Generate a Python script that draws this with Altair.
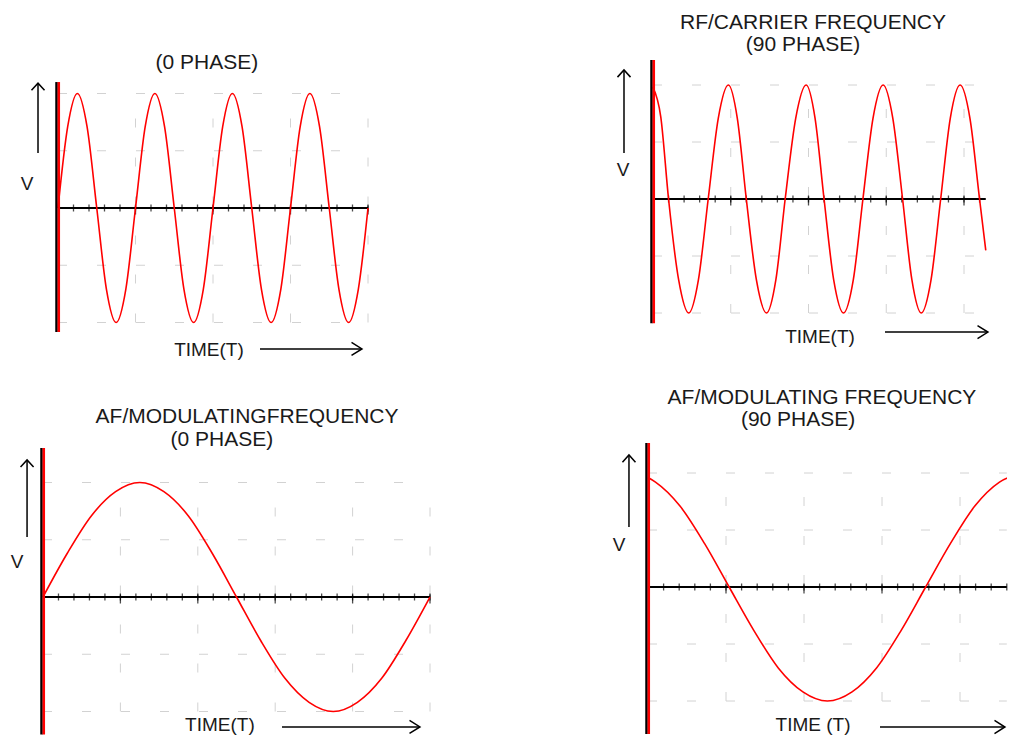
import altair as alt
import pandas as pd

# ---------------- data ----------------
# Panel 1: RF / carrier, 0 phase  (t in axis-tick units, v in peak units)
rf0_t = [0.0, 0.625, 1.25, 1.875, 2.5, 3.125, 3.75, 4.375, 5.0, 5.625, 6.25, 6.875,
         7.5, 8.125, 8.75, 9.375, 10.0, 10.625, 11.25, 11.875, 12.5, 13.125, 13.75,
         14.375, 15.0, 15.625, 16.25, 16.875, 17.5, 18.125, 18.75, 19.375, 20.0]
rf0_v = [0, 0.71, 1, 0.71, 0, -0.71, -1, -0.71, 0, 0.71, 1, 0.71, 0, -0.71, -1, -0.71,
         0, 0.71, 1, 0.71, 0, -0.71, -1, -0.71, 0, 0.71, 1, 0.71, 0, -0.71, -1, -0.71, 0]

# Panel 2: RF / carrier, 90 phase
rf90_t = [0.0, 0.5, 1.0, 1.65, 2.3, 2.92, 3.55, 4.2, 4.85, 5.42, 6.0, 6.65, 7.3, 7.9,
          8.5, 9.18, 9.85, 10.42, 11.0, 11.62, 12.25, 12.88, 13.5, 14.15, 14.8, 15.42,
          16.05, 16.65, 17.25, 17.88, 18.5, 19.12, 19.75, 20.38, 21.0, 21.4]
rf90_v = [0.98, 0.72, 0, -0.71, -1, -0.71, 0, 0.71, 1, 0.71, 0, -0.71, -1, -0.71,
          0, 0.71, 1, 0.71, 0, -0.71, -1, -0.71, 0, 0.71, 1, 0.71,
          0, -0.71, -1, -0.71, 0, 0.71, 1, 0.71, 0, -0.45]

# Panel 3: AF / modulating, 0 phase
af0_t = [0, 1.56, 3.13, 4.69, 6.25, 7.81, 9.38, 10.94, 12.5, 14.06, 15.63, 17.19,
         18.75, 20.31, 21.88, 23.44, 25]
af0_v = [0, 0.38, 0.71, 0.92, 1, 0.92, 0.71, 0.38, 0, -0.38, -0.71, -0.92,
         -1, -0.92, -0.71, -0.38, 0]

# Panel 4: AF / modulating, 90 phase
af90_t = [0.0, 0.48, 2.05, 3.63, 5.2, 6.78, 8.35, 9.93, 11.5, 13.08, 14.65, 16.23,
          17.8, 19.38, 20.95, 22.53, 24.1]
af90_v = [0.96, 0.92, 0.71, 0.38, 0, -0.38, -0.71, -0.92, -1, -0.92, -0.71, -0.38,
          0, 0.38, 0.71, 0.92, 1.0]

grid_levels = [-1, -0.5, 0.5, 1]

titles = {
    "p1": [("(0 PHASE)", 9.61, 1.266)],
    "p2": [("RF/CARRIER FREQUENCY", 10.29, 1.544), ("(90 PHASE)", 9.65, 1.351)],
    "p3": [("AF/MODULATINGFREQUENCY", 13.18, 1.572), ("(0 PHASE)", 11.56, 1.371)],
    "p4": [("AF/MODULATING FREQUENCY", 11.15, 1.658), ("(90 PHASE)", 9.62, 1.465)],
}
v_labels = {"p1": (-2.0, 0.21), "p2": (-1.93, 0.254), "p3": (-1.68, 0.306), "p4": (-1.86, 0.368)}
time_labels = {"p1": ("TIME(T)", 9.74, -1.24), "p2": ("TIME(T)", 10.74, -1.211),
               "p3": ("TIME(T)", 11.43, -1.118), "p4": ("TIME (T)", 10.58, -1.21)}
# up arrow: t, v_from, v_to ; right arrow: v, t_from, t_to
up_arrows = {"p1": (-1.29, 0.48, 1.09), "p2": (-1.865, 0.404, 1.132),
             "p3": (-1.03, 0.524, 1.197), "p4": (-1.22, 0.526, 1.158)}
right_arrows = {"p1": (-1.231, 13.03, 19.61), "p2": (-1.167, 14.92, 21.54),
                "p3": (-1.135, 15.44, 24.35), "p4": (-1.228, 14.87, 22.88)}

# ---------------- style / layout ----------------
FONT = "Liberation Sans"
FS_TITLE = 21
FS = 19
TXT = "#1a1a1a"
RED = "#ff0000"
GRID = "#d2d2d2"


def panel(key, ct, cv, axis_end, n_ticks, grid_t, red_top, red_bottom, lay):
    W, H, ox, oy, sx, sy = lay
    xdom = [-ox / sx, (W - ox) / sx]
    ydom = [-(H - oy) / sy, oy / sy]

    def X(f):
        return alt.X(f, type="quantitative", axis=None,
                     scale=alt.Scale(domain=xdom, nice=False, zero=False))

    def Y(f):
        return alt.Y(f, type="quantitative", axis=None,
                     scale=alt.Scale(domain=ydom, nice=False, zero=False))

    gv = pd.DataFrame({"t": grid_t, "v0": [-1] * len(grid_t), "v1": [1] * len(grid_t)})
    gh = pd.DataFrame({"v": grid_levels, "t0": [0] * 4, "t1": [axis_end] * 4})
    ax = pd.DataFrame({"t0": [0], "t1": [axis_end], "v": [0]})
    tk = pd.DataFrame({"t": list(range(1, n_ticks + 1)), "v": [0] * n_ticks})
    tkm = tk[tk["t"] % 5 == 0]
    cur = pd.DataFrame({"t": ct, "v": cv})
    va = pd.DataFrame({"t": [0], "v0": [red_bottom], "v1": [red_top]})
    ua = up_arrows[key]
    ra = right_arrows[key]
    shafts = pd.DataFrame({"t0": [ua[0], ra[1]], "t1": [ua[0], ra[2]],
                           "v0": [ua[1], ra[0]], "v1": [ua[2], ra[0]]})
    uh = pd.DataFrame({"t": [ua[0]], "v": [ua[2]]})
    rh = pd.DataFrame({"t": [ra[2]], "v": [ra[0]]})
    tt = pd.DataFrame(list(titles[key]), columns=["label", "t", "v"])
    tx = pd.DataFrame([("V",) + v_labels[key], time_labels[key]], columns=["label", "t", "v"])

    layers = [
        alt.Chart(gv).mark_rule(color=GRID, strokeWidth=1, strokeDash=[9, 30]).encode(
            x=X("t"), y=Y("v0"), y2="v1"),
        alt.Chart(gh).mark_rule(color=GRID, strokeWidth=1, strokeDash=[9, 30]).encode(
            y=Y("v"), x=X("t0"), x2="t1"),
        alt.Chart(ax).mark_rule(color="black", strokeWidth=2).encode(
            x=X("t0"), x2="t1", y=Y("v")),
        alt.Chart(tk).mark_tick(color="black", orient="vertical", size=7, thickness=1.3).encode(
            x=X("t"), y=Y("v")),
        alt.Chart(tkm).mark_tick(color="black", orient="vertical", size=9, thickness=1.3,
                                 yOffset=2).encode(x=X("t"), y=Y("v")),
        alt.Chart(cur).mark_line(color=RED, strokeWidth=1.6, interpolate="monotone",
                                 clip=True).encode(x=X("t"), y=Y("v")),
        alt.Chart(va).mark_rule(color="black", strokeWidth=2.5, xOffset=-1.5).encode(
            x=X("t"), y=Y("v0"), y2="v1"),
        alt.Chart(va).mark_rule(color=RED, strokeWidth=2.5, xOffset=0.8).encode(
            x=X("t"), y=Y("v0"), y2="v1"),
        alt.Chart(shafts).mark_rule(color="black", strokeWidth=1.5).encode(
            x=X("t0"), x2="t1", y=Y("v0"), y2="v1"),
        alt.Chart(uh).mark_point(shape="M-1,1.1L0,0L1,1.1", size=170, filled=False,
                                 stroke="black", strokeWidth=1.5, opacity=1).encode(
            x=X("t"), y=Y("v")),
        alt.Chart(rh).mark_point(shape="M-1.6,-1L0,0L-1.6,1", size=170, filled=False,
                                 stroke="black", strokeWidth=1.5, opacity=1).encode(
            x=X("t"), y=Y("v")),
        alt.Chart(tt).mark_text(font=FONT, fontSize=FS_TITLE, color=TXT, align="center",
                                baseline="middle").encode(
            x=X("t"), y=Y("v"), text="label"),
        alt.Chart(tx).mark_text(font=FONT, fontSize=FS, color=TXT, align="center",
                                baseline="middle").encode(
            x=X("t"), y=Y("v"), text="label"),
    ]
    return alt.layer(*layers).properties(width=W, height=H)


p1 = panel("p1", rf0_t, rf0_v, 20, 20, [5, 10, 15, 20], 1.10, -1.083,
           (392, 357, 50, 200, 15.5, 114.5))
p2 = panel("p2", rf90_t, rf90_v, 21.4, 21, [5, 10, 15, 20], 1.22, -1.09,
           (407, 357, 53, 191, 15.55, 114))
p3 = panel("p3", af0_t, af0_v, 25, 25, [5, 10, 15, 20, 25], 1.301, -1.2,
           (442, 362, 35, 224, 15.48, 114.5))
p4 = panel("p4", af90_t, af90_v, 23.0, 23, [5, 10, 15, 20], 1.263, -1.29,
           (417, 362, 58, 214, 15.6, 114))

chart = alt.vconcat(
    alt.hconcat(p1, p2, spacing=200),
    alt.hconcat(p3, p4, spacing=140),
    spacing=8,
).properties(padding=0, background="white").configure_view(stroke=None)

chart.save("out.html", embed_options={"renderer": "svg", "actions": False})
